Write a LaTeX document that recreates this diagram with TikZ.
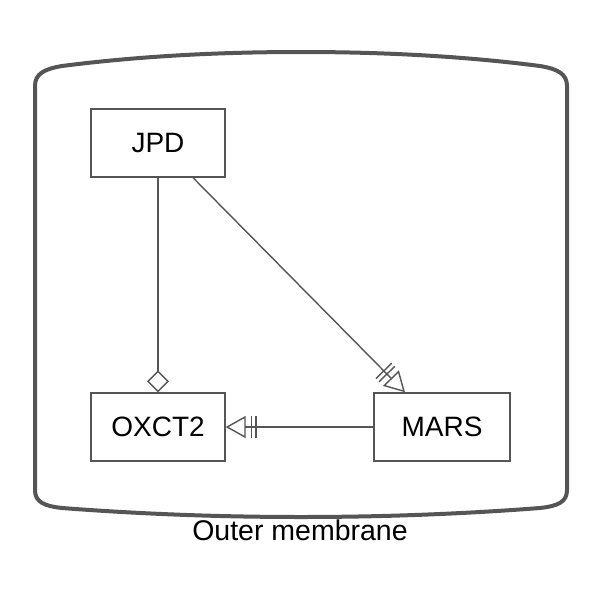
\documentclass[tikz,border=0pt]{standalone}
\usepackage{fontspec}
\setmainfont{Liberation Sans}
\usetikzlibrary{arrows.meta,calc}
\definecolor{lc}{HTML}{555555}
\tikzset{
  box/.style={draw=lc, line width=1.4pt, fill=white, minimum width=134pt, minimum height=68pt, inner sep=0pt, font=\fontsize{28}{32}\selectfont},
  conn/.style={draw=lc, line width=1.4pt},
  membrane/.style={draw=lc, line width=4pt, line join=round},
  bartri/.style={-{Bar[width=22pt, line width=1.4pt, sep=3pt] Bar[width=22pt, line width=1.4pt, sep=5pt] Triangle[open, length=20pt, width=22pt, line width=1.4pt]}},
}
\begin{document}
\begin{tikzpicture}[x=1pt,y=-1pt]
\useasboundingbox (0,0) rectangle (600,600);
\draw[membrane] (35,86) .. controls (35,74) and (44,69) .. (62,66)
  .. controls (140,56) and (220,52) .. (301,52)
  .. controls (382,52) and (462,56) .. (540,66)
  .. controls (558,69) and (567,74) .. (567,86)
  -- (567,490) .. controls (567,502) and (558,506) .. (540,508)
  .. controls (462,514) and (382,517) .. (301,517)
  .. controls (220,517) and (140,514) .. (62,508)
  .. controls (44,506) and (35,502) .. (35,490) -- cycle;
\node[font=\fontsize{28.5}{32}\selectfont] (lbl) at (300,530) {Outer membrane};
\node[box] (JPD) at (158,143) {JPD};
\node[box] (OXCT2) at (158,427) {OXCT2};
\node[box, minimum width=136pt] (MARS) at (442,427) {MARS};
\draw[conn, -{Diamond[open, length=22pt, width=22pt, line width=1.4pt]}] (JPD.south) -- (OXCT2.north);
\draw[conn, bartri] ([xshift=35pt]JPD.south) -- ([xshift=-37pt]MARS.north);
\draw[conn, bartri] (MARS.west) -- (OXCT2.east);
\end{tikzpicture}
\end{document}
